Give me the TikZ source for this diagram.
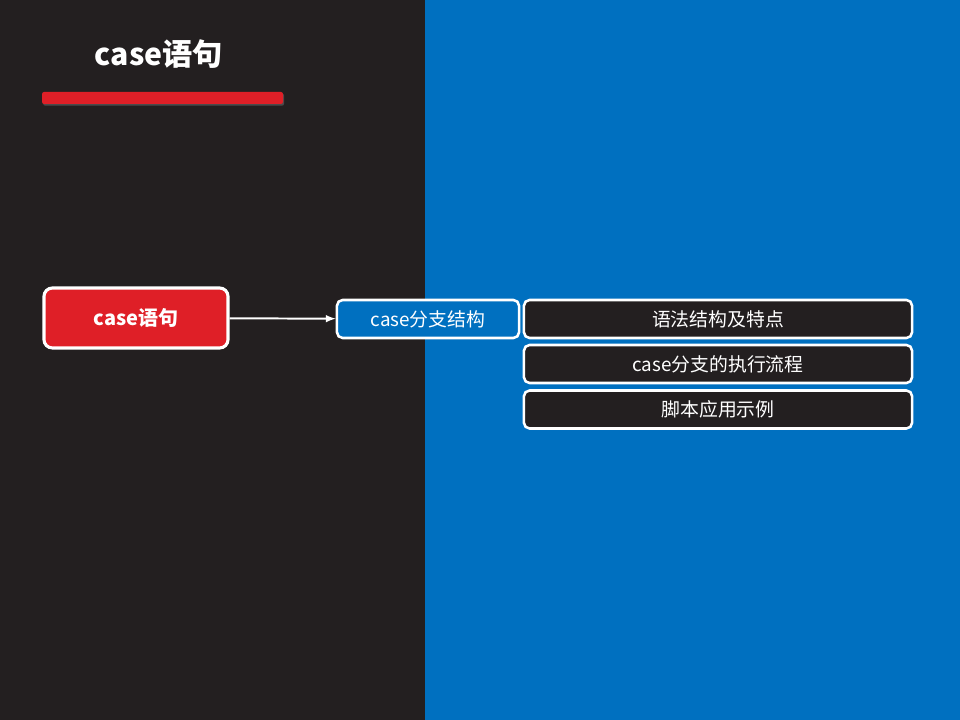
\documentclass[tikz,border=0pt]{standalone}
\usepackage{fontspec}
\newfontfamily\cjk{Noto Sans CJK SC}
\usetikzlibrary{shadows}
\definecolor{darkbg}{HTML}{231F20}
\definecolor{bluebg}{HTML}{0070C0}
\definecolor{redbox}{HTML}{DF1F27}
\tikzset{
	box/.style={draw=white, line width=1.8pt, rounded corners=4pt, text=white, inner sep=0pt, font=\cjk\fontsize{13.4}{15}\selectfont, minimum height=0.95cm},
	rootbox/.style={box, fill=redbox, line width=2.2pt, rounded corners=6pt, minimum width=4.6cm, minimum height=1.5cm, font=\cjk\bfseries\fontsize{14.2}{16}\selectfont},
	branchbox/.style={box, fill=bluebg, minimum width=4.55cm},
	itembox/.style={box, fill=darkbg, minimum width=9.7cm}
}
\begin{document}
\begin{tikzpicture}[x=0.025cm, y=-0.025cm]
		%%%%% START %%%%%
		\useasboundingbox (0, 0) rectangle (960, 720);
		\fill[darkbg] (0, 0) rectangle (425, 720);
		\fill[bluebg] (425, 0) rectangle (960, 720);
		
		\node[text=white, font=\cjk\bfseries\fontsize{21.5}{24}\selectfont] (title) at (159, 54) {case语句};
		\fill[redbox, rounded corners=1.5pt, drop shadow={opacity=0.45, shadow xshift=0.8pt, shadow yshift=-1.2pt}] (42, 92) rectangle (283, 104);
		
		\node[rootbox] (root) at (136, 318) {case语句};
		\node[branchbox] (branch) at (428, 319) {case分支结构};
		
		\node[itembox] (item1) at (718, 319) {语法结构及特点};
		\node[itembox] (item2) at (718, 364) {case分支的执行流程};
		\node[itembox] (item3) at (718, 409.5) {脚本应用示例};
		
		\draw[white, line width=1.4pt, -latex] (root) -- (branch);
		%%%%% END %%%%%
	\end{tikzpicture}
\end{document}
